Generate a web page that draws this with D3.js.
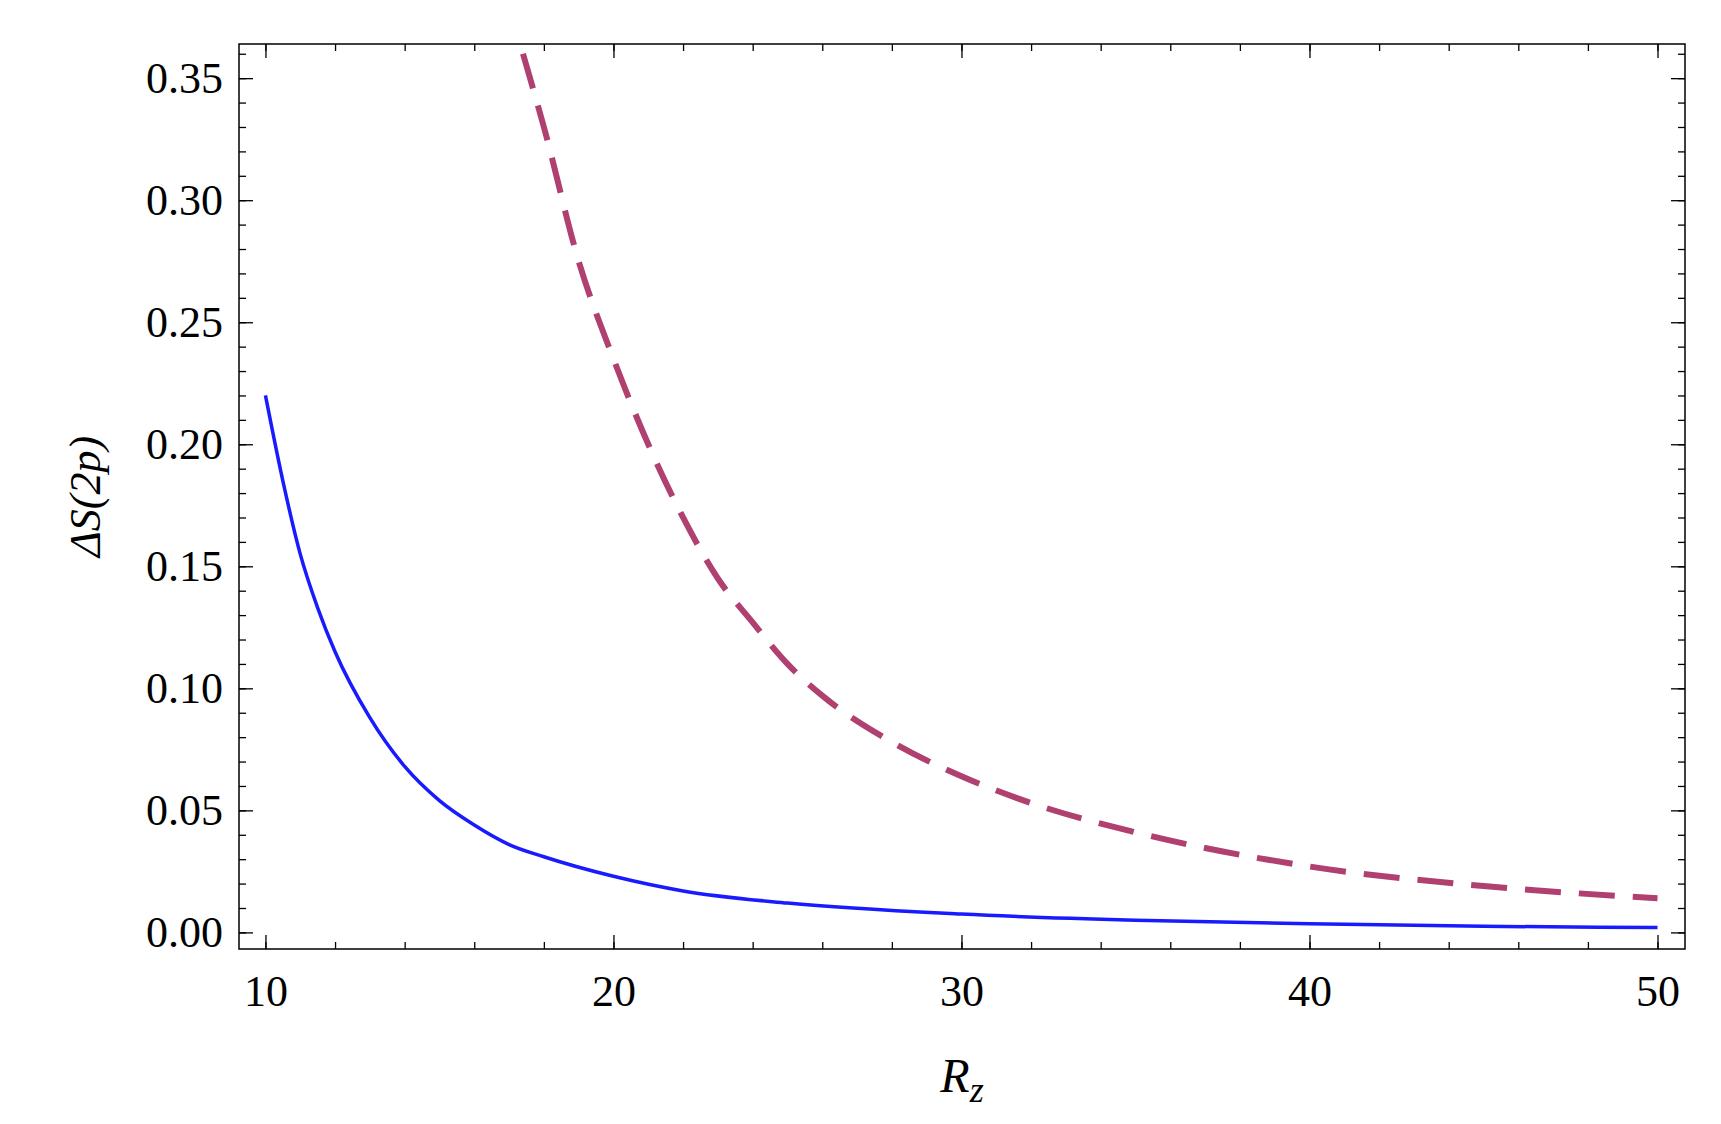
<!DOCTYPE html>
<html>
<head>
<meta charset="utf-8">
<script src="https://cdn.jsdelivr.net/npm/d3@7"></script>
<style>body{margin:0;background:#fff}</style>
</head>
<body>
<svg id="c" width="1721" height="1124"></svg>
<script>
var blueX = [10, 10.5, 11, 11.5, 12, 13, 14, 15, 16, 17, 18, 20, 22, 25, 30, 35, 40, 45, 50];
var blueY = [0.22, 0.185, 0.155, 0.133, 0.115, 0.088, 0.068, 0.054, 0.044, 0.036, 0.031, 0.023, 0.017, 0.012, 0.0075, 0.005, 0.0035, 0.0025, 0.002];
var redX = [17.4, 18, 19, 20, 21, 22, 23, 24, 25, 26, 28, 30, 32, 35, 40, 45, 50];
var redY = [0.36, 0.33, 0.275, 0.235, 0.2, 0.17, 0.145, 0.127, 0.11, 0.097, 0.078, 0.064, 0.053, 0.041, 0.027, 0.019, 0.014];
var xTicks = [10, 20, 30, 40, 50];
var yTicks = [0, 0.05, 0.1, 0.15, 0.2, 0.25, 0.3, 0.35];

var L = 239, R = 1685, T = 44, B = 949;
var svg = d3.select("#c");
var x = d3.scaleLinear().domain([9.24, 50.79]).range([L, R]);
var y = d3.scaleLinear().domain([-0.0068, 0.364]).range([B, T]);
var font = "Liberation Serif, Times New Roman, serif";

function axis(a, minor, tr, labels) {
  var g = svg.append("g").attr("transform", tr);
  g.call(a.tickValues(minor).tickSize(-7).tickFormat(""));
  g.append("g").call(labels);
  g.selectAll(".domain").remove();
  g.selectAll("text").attr("font-family", font).attr("font-size", 44).attr("fill", "#000");
  g.selectAll("line").attr("stroke", "#000").attr("stroke-width", 1.3);
  return g;
}
var xMinor = d3.range(10, 51, 2), yMinor = d3.range(0, 0.361, 0.01);
// bottom
axis(d3.axisBottom(x), xMinor, "translate(0," + B + ")",
  function(g){ g.call(d3.axisBottom(x).tickValues(xTicks).tickSize(-14).tickPadding(26).tickFormat(d3.format("d"))); });
// top
axis(d3.axisTop(x), xMinor, "translate(0," + T + ")",
  function(g){ g.call(d3.axisTop(x).tickValues(xTicks).tickSize(-14).tickFormat("")); });
// left
axis(d3.axisLeft(y), yMinor, "translate(" + L + ",0)",
  function(g){ g.call(d3.axisLeft(y).tickValues(yTicks).tickSize(-14).tickPadding(16).tickFormat(d3.format(".2f"))); });
// right
axis(d3.axisRight(y), yMinor, "translate(" + R + ",0)",
  function(g){ g.call(d3.axisRight(y).tickValues(yTicks).tickSize(-14).tickFormat("")); });

svg.append("rect").attr("x", L).attr("y", T).attr("width", R - L).attr("height", B - T)
  .attr("fill", "none").attr("stroke", "#000").attr("stroke-width", 1.5);

var line = d3.line().x(function(d){ return x(d[0]); }).y(function(d){ return y(d[1]); }).curve(d3.curveMonotoneX);
svg.append("path").datum(d3.zip(blueX, blueY)).attr("d", line)
  .attr("fill", "none").attr("stroke", "#1a1aff").attr("stroke-width", 3.5);
svg.append("path").datum(d3.zip(redX, redY)).attr("d", line)
  .attr("fill", "none").attr("stroke", "#b04070").attr("stroke-width", 6).attr("stroke-dasharray", "36,18");

svg.append("text").attr("x", (L + R) / 2 + 0).attr("y", 1092).attr("text-anchor", "middle")
  .attr("font-family", font).attr("font-size", 48).attr("font-style", "italic")
  .html('R<tspan font-size="36" dy="10">z</tspan>');
svg.append("text").attr("transform", "translate(100," + ((T + B) / 2) + ") rotate(-90)")
  .attr("text-anchor", "middle").attr("font-family", font).attr("font-size", 44).attr("font-style", "italic")
  .text("ΔS(2p)");
</script>
</body>
</html>
